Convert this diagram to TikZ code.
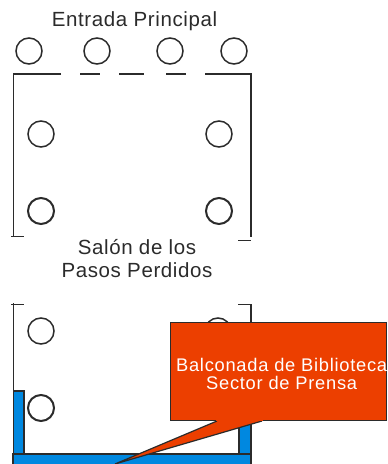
\documentclass[tikz,border=0pt]{standalone}
\usepackage{fontspec}
\setmainfont{Liberation Sans}
\newfontfamily\wide[LetterSpace=3]{Liberation Sans}
\newfontfamily\wider[LetterSpace=4]{Liberation Sans}
\definecolor{ink}{HTML}{2B2B2B}
\definecolor{wallblue}{HTML}{0088E0}
\definecolor{callred}{HTML}{EC3F00}
\tikzset{
  pillar/.style={circle,draw=ink,line width=1.5pt,minimum size=26pt,inner sep=0pt,fill=white},
  heavy pillar/.style={pillar,line width=2pt},
  wall/.style={draw=ink,line width=1.4pt},
  thin wall/.style={draw=ink,line width=1.1pt},
  blue part/.style={draw=ink,line width=1.2pt,fill=wallblue},
  label/.style={text=ink,align=center,inner sep=0pt},
}
\begin{document}
\begin{tikzpicture}[x=1pt,y=-1pt]
\useasboundingbox (0,0) rectangle (388,464);
\node[label,font=\fontsize{20.5}{24}\wide\selectfont] (entrada) at (134.5,21.5) {Entrada Principal};
\node[label,font=\fontsize{20.5}{23}\wide\selectfont] (salon) at (137,258.5) {Salón de los\\Pasos Perdidos};
\node[pillar] (p1) at (29,51) {};
\node[pillar] (p2) at (97,51) {};
\node[pillar] (p3) at (170,51) {};
\node[pillar] (p4) at (234,51) {};
\node[pillar] (p5) at (41,134) {};
\node[pillar] (p6) at (219,134) {};
\node[heavy pillar] (p7) at (41,211) {};
\node[heavy pillar] (p8) at (219,211) {};
\node[pillar] (p9) at (41,331) {};
\node[pillar] (p10) at (218,331) {};
\node[heavy pillar] (p11) at (41,408) {};
% upper room
\draw[wall] (61,74) -- (13.5,74) -- (13.5,236.5);
\draw[wall] (11,236.5) -- (24,236.5);
\draw[wall] (80,74) -- (100,74);
\draw[wall] (119,74) -- (144,74);
\draw[wall] (166,74) -- (186,74);
\draw[wall] (205,74) -- (251,74) -- (251,237);
\draw[wall] (238,240.5) -- (251,240.5);
% lower room
\draw[wall] (11,304.5) -- (24,304.5);
\draw[thin wall] (13.5,303) -- (13.5,464);
\draw[wall] (238,304.5) -- (251,304.5) -- (251,330);
% blue balcony
\draw[blue part] (13.5,391) rectangle (24,454);
\draw[blue part] (239,415) rectangle (251,454);
\draw[blue part] (13,454) rectangle (251,470);
% callout
\node[draw=ink,line width=1.3pt,fill=callred,minimum width=216pt,minimum height=98pt,inner sep=0pt,anchor=north west] (call) at (170,322) {};
\coordinate (tip) at (115,464);
\draw[draw=ink,line width=1.2pt,fill=callred] (217,421) -- (tip) -- (262,421);
\fill[callred] (216,419.5) rectangle (263,421);
\node[text=white,align=center,inner sep=0pt,font=\fontsize{18.3}{18}\wider\selectfont,xshift=3pt,yshift=-2pt] (calltext) at (call.center) {Balconada de Biblioteca\\Sector de Prensa};
\end{tikzpicture}
\end{document}
